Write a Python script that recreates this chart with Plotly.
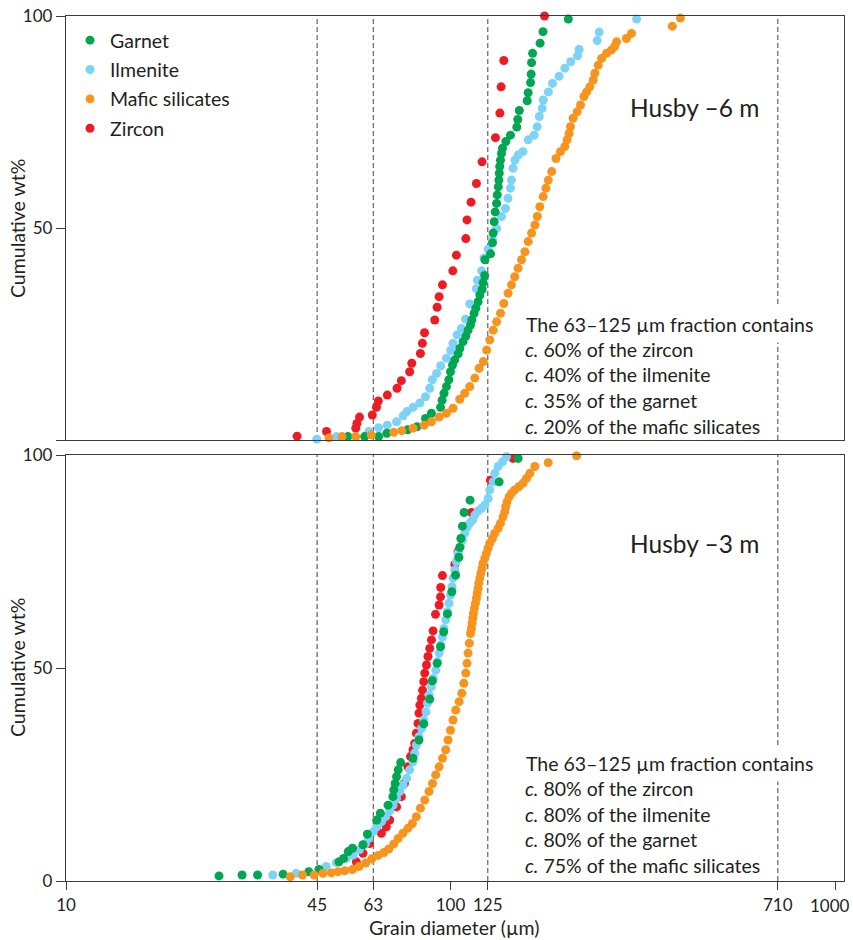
import plotly.graph_objects as go

# ---------------- data: grain diameter (µm) vs cumulative wt% ----------------
# Husby -6 m
TOP_GARNET_D = [54.1, 59.8, 65.0, 68.3, 77.3, 81.8, 86.1, 89.2, 94.2, 95.1, 96.2, 97.6, 99.0, 100.0,
                101.2, 102.6, 104.7, 105.7, 107.8, 109.6, 111.1, 112.7, 113.6, 115.2, 116.4, 118.0,
                119.2, 120.9, 121.6, 122.7, 122.9, 127.1, 128.6, 129.1, 129.9, 130.7, 131.8, 132.3,
                133.1, 133.6, 133.9, 134.3, 134.9, 135.7, 136.5, 139.3, 143.2, 148.7, 149.6, 151.0,
                158.3, 159.2, 161.5, 162.1, 162.5, 163.5, 171.0, 174.0, 202.5]
TOP_GARNET_CUM = [0.8, 0.8, 0.8, 1.6, 2.4, 3.1, 5.1, 6.3, 7.7, 9.4, 11.0, 12.6, 14.2, 16.1,
                  17.7, 18.9, 20.3, 21.6, 23.2, 24.5, 25.9, 27.1, 28.3, 29.9, 31.1, 32.6,
                  34.2, 35.5, 37.1, 38.8, 42.5, 43.9, 46.5, 48.8, 51.5, 53.8, 55.8, 57.8,
                  59.7, 61.3, 62.9, 64.5, 66.0, 67.6, 68.8, 70.4, 71.9, 73.8, 75.6, 77.7,
                  80.0, 81.9, 84.3, 86.3, 89.0, 91.2, 93.6, 96.3, 99.3]

TOP_ILMENITE_D = [44.9, 50.5, 61.3, 65.0, 68.5, 72.4, 75.3, 77.0, 79.9, 83.2, 86.1, 88.3, 89.7,
                  92.0, 94.3, 97.6, 100.1, 101.5, 104.0, 106.8, 109.4, 112.2, 116.8, 117.5, 120.5,
                  122.2, 125.3, 128.6, 131.8, 135.7, 139.0, 141.1, 143.2, 144.1, 145.4, 147.1,
                  149.9, 154.3, 159.2, 165.0, 168.1, 170.2, 173.2, 174.3, 179.7, 184.2, 191.6,
                  198.3, 205.5, 214.0, 216.0, 240.7, 243.6, 304.8]
TOP_ILMENITE_CUM = [0.2, 0.8, 2.0, 2.9, 3.5, 4.3, 5.7, 6.7, 7.7, 8.7, 10.2, 12.2, 14.2,
                    15.7, 17.5, 19.3, 21.1, 22.8, 24.8, 26.3, 28.5, 32.1, 35.7, 37.7, 39.9,
                    42.9, 45.0, 47.2, 49.9, 52.7, 54.6, 57.0, 59.4, 61.3, 64.1, 66.0,
                    67.2, 68.0, 70.8, 71.9, 73.9, 76.3, 78.2, 80.2, 82.1, 84.1, 85.8,
                    87.7, 89.2, 90.6, 92.1, 94.2, 96.2, 99.3]

TOP_MAFIC_D = [48.3, 52.2, 56.7, 62.2, 71.2, 74.7, 79.9, 85.4, 89.2, 93.4, 97.6, 101.5, 105.7,
               108.9, 112.2, 115.7, 118.7, 121.7, 124.2, 126.5, 129.1, 131.8, 134.9, 137.6,
               141.2, 144.1, 146.9, 149.9, 153.0, 156.1, 159.2, 162.5, 165.8, 168.2, 170.7,
               174.2, 177.1, 179.6, 183.3, 188.1, 193.2, 198.3, 201.0, 203.4, 205.1, 208.4,
               213.5, 217.8, 222.3, 226.0, 230.3, 235.0, 237.4, 242.2, 247.2, 254.6, 262.2,
               267.3, 270.3, 286.8, 295.6, 377.4, 396.3]
TOP_MAFIC_CUM = [0.5, 0.8, 0.8, 1.2, 1.8, 2.2, 2.8, 3.5, 4.3, 5.4, 6.3, 7.5, 9.6,
                 11.0, 12.6, 14.6, 16.9, 18.5, 21.2, 23.6, 25.9, 27.9, 29.9, 32.2,
                 34.6, 36.6, 38.5, 40.5, 42.5, 44.4, 46.8, 48.8, 50.7, 52.7, 55.0,
                 57.4, 59.4, 61.3, 63.3, 66.4, 68.0, 69.2, 70.8, 72.3, 73.9, 75.9,
                 77.4, 79.0, 81.0, 82.1, 83.3, 84.9, 86.5, 88.4, 90.0, 91.2, 92.0,
                 92.8, 93.9, 94.7, 95.9, 97.6, 99.5]

TOP_ZIRCON_D = [39.9, 47.6, 56.7, 57.1, 58.0, 62.6, 64.2, 64.9, 68.5, 72.6, 74.5, 78.3, 79.3,
                83.5, 84.5, 85.6, 91.0, 92.3, 93.4, 95.3, 101.4, 103.6, 109.6, 110.4, 113.1,
                116.8, 120.8, 130.9, 134.4, 135.4, 137.6, 175.6]
TOP_ZIRCON_CUM = [0.9, 2.0, 2.8, 3.9, 5.4, 5.9, 7.7, 9.2, 10.6, 12.2, 14.0, 16.1, 18.1,
                  20.4, 22.8, 25.3, 28.3, 31.3, 33.8, 36.6, 39.9, 43.6, 47.5, 51.9, 56.1,
                  60.5, 65.6, 71.3, 77.1, 83.3, 89.5, 100.0]

# Husby -3 m
BOT_GARNET_D = [25.0, 28.7, 31.5, 36.7, 42.8, 45.5, 51.3, 52.7, 54.2, 55.6, 59.2, 60.8, 64.3,
                65.7, 68.8, 70.8, 71.2, 71.8, 72.4, 73.1, 74.2, 79.9, 82.8, 85.2, 88.3, 89.7,
                92.3, 94.2, 96.0, 98.2, 100.8, 103.1, 105.1, 105.7, 106.4, 107.4, 108.5, 112.4,
                133.8, 149.9]
BOT_GARNET_CUM = [1.2, 1.4, 1.4, 1.6, 2.2, 2.7, 4.5, 5.3, 6.9, 7.7, 8.5, 11.0, 14.3,
                  15.9, 17.8, 19.8, 21.4, 22.9, 24.5, 26.1, 27.8, 28.8, 33.1, 36.9, 42.7, 47.0,
                  51.1, 55.0, 58.5, 62.7, 67.9, 71.8, 76.0, 78.3, 80.4, 83.3, 86.5, 89.4,
                  93.7, 99.2]

BOT_ILMENITE_D = [34.5, 39.7, 47.5, 50.5, 53.6, 55.8, 58.0, 60.1, 61.3, 63.0, 64.3, 66.1, 67.8,
                  69.5, 70.9, 72.4, 73.8, 75.3, 76.9, 78.3, 79.9, 80.7, 81.5, 82.8, 84.1, 85.2,
                  86.4, 87.1, 88.0, 89.2, 90.2, 91.6, 92.6, 93.4, 94.3, 95.3, 96.2, 97.2, 98.2,
                  99.1, 100.0, 100.9, 101.5, 102.6, 103.6, 104.6, 106.2, 107.4, 108.9, 110.5,
                  112.2, 114.0, 115.7, 118.0, 120.5, 122.9, 125.3, 126.5, 129.1, 130.3, 133.0,
                  136.5, 139.8]
BOT_ILMENITE_CUM = [1.4, 1.8, 3.4, 4.3, 5.3, 6.1, 7.4, 8.7, 10.0, 11.6, 12.7, 13.9, 15.1,
                    16.5, 17.8, 19.4, 21.0, 22.5, 24.1, 26.1, 28.0, 30.0, 31.9, 33.9, 35.8, 37.8,
                    39.7, 41.7, 43.7, 45.6, 47.6, 49.5, 51.5, 53.5, 55.4, 57.3, 59.3, 61.3, 63.2,
                    65.2, 67.1, 69.1, 71.1, 73.0, 75.0, 76.9, 78.5, 80.0, 81.6, 83.0,
                    84.0, 84.7, 85.9, 86.9, 87.5, 88.3, 89.8, 91.8, 93.7, 95.7, 97.3,
                    98.4, 99.6]

BOT_MAFIC_D = [38.3, 41.2, 44.2, 46.6, 49.0, 51.0, 53.1, 55.6, 57.8, 60.2, 62.4, 64.8, 67.1,
               69.1, 71.2, 73.1, 75.2, 77.5, 79.6, 81.5, 83.5, 85.7, 87.9, 89.8, 91.5, 93.4,
               95.3, 97.2, 98.5, 100.0, 101.5, 103.2, 105.3, 107.0, 108.3, 109.6, 110.4, 111.1,
               111.9, 112.7, 113.4, 113.8, 114.3, 114.7, 115.4, 116.1, 116.8, 117.3, 118.0,
               118.4, 119.2, 119.9, 120.8, 121.5, 122.8, 124.0, 125.2, 126.5, 128.6, 130.3,
               133.0, 134.9, 137.0, 138.4, 139.2, 140.3, 142.0, 144.1, 146.9, 150.8, 154.4,
               157.6, 160.8, 165.7, 179.5, 212.8]
BOT_MAFIC_CUM = [1.0, 1.4, 1.4, 1.8, 1.9, 2.2, 2.4, 2.7, 3.4, 4.2, 5.2, 6.0, 6.7,
                 7.5, 8.7, 10.0, 11.2, 12.4, 13.5, 15.1, 17.1, 19.0, 21.0, 22.9, 24.9, 26.8,
                 28.8, 30.8, 33.1, 35.4, 37.8, 40.1, 42.1, 44.1, 46.4, 48.8, 51.1, 53.5,
                 55.8, 58.1, 59.3, 60.5, 61.7, 62.8, 64.0, 65.2, 66.4, 67.5, 68.7,
                 69.9, 71.1, 72.2, 73.4, 74.6, 75.8, 76.9, 78.1, 79.3, 80.4, 81.6,
                 82.8, 84.0, 85.5, 86.7, 87.9, 89.0, 90.2, 91.0, 91.8, 92.6, 93.4,
                 94.5, 95.7, 97.3, 98.2, 99.8]

BOT_ZIRCON_D = [56.9, 59.2, 61.6, 66.1, 68.1, 69.5, 72.4, 74.5, 75.9, 77.5, 78.7, 79.9, 80.7,
                81.5, 82.3, 82.8, 83.2, 84.0, 84.6, 85.2, 85.7, 86.6, 87.4, 88.3, 89.2, 90.1,
                91.4, 93.4, 94.2, 94.3, 95.3, 102.6, 104.6, 110.2, 113.4, 127.0, 145.4]
BOT_ZIRCON_CUM = [4.5, 6.5, 8.8, 11.2, 12.7, 14.3, 17.4, 19.8, 22.9, 26.8, 29.2, 30.8, 32.3,
                  34.7, 37.0, 39.4, 41.3, 42.9, 44.8, 46.8, 48.8, 50.7, 52.7, 54.6, 56.6, 58.7,
                  62.6, 64.8, 66.7, 68.9, 71.7, 74.3, 77.3, 83.3, 86.5, 94.1, 99.2]

SIEVE_LINES = [45, 63, 125, 710]
X_TICKS = [10, 45, 63, 100, 125, 710, 1000]
Y_TICKS = [0, 50, 100]

PANEL_TITLES = ["Husby \u20136 m", "Husby \u20133 m"]
NOTE_HEAD = "The 63\u2013125 \u00b5m fraction contains"
NOTES_TOP = ["<i>c.</i> 60% of the zircon", "<i>c.</i> 40% of the ilmenite",
             "<i>c.</i> 35% of the garnet", "<i>c.</i> 20% of the mafic silicates"]
NOTES_BOT = ["<i>c.</i> 80% of the zircon", "<i>c.</i> 80% of the ilmenite",
             "<i>c.</i> 80% of the garnet", "<i>c.</i> 75% of the mafic silicates"]

# ---------------- styling ----------------
FONT = "Lato"
INK = "#231f20"
AXIS = "#3b3b3b"
COLORS = {"Garnet": "#00a651", "Ilmenite": "#7dd3f7",
          "Mafic silicates": "#f7941d", "Zircon": "#ed1c24"}
# drawing order (first = bottom) and legend order
DRAW_ORDER = ["Zircon", "Ilmenite", "Garnet", "Mafic silicates"]
RANK = {"Garnet": 1, "Ilmenite": 2, "Mafic silicates": 3, "Zircon": 4}
TEXT_SIZE = 19.5
TICK_SIZE = 17

W, H = 853, 940
ML, MR, MT, MB = 66, 9, 16, 59
PH = H - MT - MB
TOP_DOMAIN = [(H - MB - 440) / PH, 1.0]
BOT_DOMAIN = [0.0, (H - MB - 455) / PH]

series_top = {"Garnet": (TOP_GARNET_D, TOP_GARNET_CUM),
              "Ilmenite": (TOP_ILMENITE_D, TOP_ILMENITE_CUM),
              "Mafic silicates": (TOP_MAFIC_D, TOP_MAFIC_CUM),
              "Zircon": (TOP_ZIRCON_D, TOP_ZIRCON_CUM)}
series_bot = {"Garnet": (BOT_GARNET_D, BOT_GARNET_CUM),
              "Ilmenite": (BOT_ILMENITE_D, BOT_ILMENITE_CUM),
              "Mafic silicates": (BOT_MAFIC_D, BOT_MAFIC_CUM),
              "Zircon": (BOT_ZIRCON_D, BOT_ZIRCON_CUM)}

fig = go.Figure()

for name in DRAW_ORDER:
    d, cum = series_top[name]
    fig.add_trace(go.Scatter(
        x=d, y=cum, mode="markers", name=name, xaxis="x2", yaxis="y2",
        marker=dict(size=9, color=COLORS[name], line=dict(width=0)),
        legendgroup=name, legendrank=RANK[name],
        cliponaxis=False, showlegend=True))

for name in DRAW_ORDER:
    d, cum = series_bot[name]
    fig.add_trace(go.Scatter(
        x=d, y=cum, mode="markers", name=name, xaxis="x", yaxis="y",
        marker=dict(size=9, color=COLORS[name], line=dict(width=0)),
        legendgroup=name, legendrank=RANK[name],
        cliponaxis=False, showlegend=False))

# sieve boundaries as dashed verticals in both panels
shapes = []
for xr, yr in (("x", "y domain"), ("x2", "y2 domain")):
    for v in SIEVE_LINES:
        shapes.append(dict(type="line", xref=xr, yref=yr, x0=v, x1=v, y0=0, y1=1,
                           layer="below", line=dict(color="#6d6e71", width=1.3, dash="5px,3px")))


def ypaper(py):
    return (H - MB - py) / PH


def xpaper(px):
    return (px - ML) / (W - ML - MR)


annotations = []
# panel labels
for title, py in zip(PANEL_TITLES, (108, 543)):
    annotations.append(dict(text=title, xref="paper", yref="paper", x=xpaper(694), y=ypaper(py),
                            xanchor="center", yanchor="middle", showarrow=False,
                            font=dict(family=FONT, size=24.5, color=INK)))

# note blocks
for notes, base in ((NOTES_TOP, 324), (NOTES_BOT, 763)):
    annotations.append(dict(text=NOTE_HEAD, xref="paper", yref="paper", x=xpaper(525) - 0.008,
                            y=ypaper(base), xanchor="left", yanchor="middle", showarrow=False,
                            bgcolor="white", borderpad=6,
                            font=dict(family=FONT, size=TEXT_SIZE, color=INK)))
    for i, line in enumerate(notes):
        annotations.append(dict(text=line, xref="paper", yref="paper", x=xpaper(523),
                                y=ypaper(base + 25.5 * (i + 1)), xanchor="left", yanchor="middle",
                                showarrow=False, font=dict(family=FONT, size=TEXT_SIZE, color=INK)))

# axis titles
for py in (229, 668):
    annotations.append(dict(text="Cumulative wt%", xref="paper", yref="paper", x=xpaper(17),
                            y=ypaper(py), xanchor="center", yanchor="middle", textangle=-90,
                            showarrow=False, font=dict(family=FONT, size=TEXT_SIZE, color=INK)))
annotations.append(dict(text="Grain diameter (\u00b5m)", xref="paper", yref="paper",
                        x=xpaper(454), y=ypaper(928), xanchor="center", yanchor="middle",
                        showarrow=False, font=dict(family=FONT, size=TEXT_SIZE, color=INK)))

# the last tick label sits against the right page edge, so it is right-aligned there
x_ticktext = [str(v) for v in X_TICKS[:-1]] + [""]
annotations.append(dict(text=str(X_TICKS[-1]), xref="paper", yref="y", x=xpaper(W - 1), y=0,
                        xanchor="right", yanchor="top", yshift=-12, showarrow=False,
                        font=dict(family=FONT, size=TICK_SIZE, color=INK)))

xcommon = dict(type="log", range=[1, 3.0234], showgrid=False, zeroline=False, automargin=False,
               showline=True, linecolor=AXIS, linewidth=1.3, mirror=True)
ycommon = dict(range=[0, 100], showgrid=False, zeroline=False, showline=True, automargin=False,
               linecolor=AXIS, linewidth=1.3, mirror=True, ticks="outside", ticklen=9,
               tickwidth=1.3, tickcolor=AXIS, tickvals=Y_TICKS,
               tickfont=dict(family=FONT, size=TICK_SIZE, color=INK))

fig.update_layout(
    width=W, height=H,
    margin=dict(l=ML, r=MR, t=MT, b=MB, autoexpand=False),
    paper_bgcolor="white", plot_bgcolor="white",
    font=dict(family=FONT, color=INK),
    xaxis=dict(**xcommon, anchor="y", ticks="outside", ticklen=8, tickwidth=1.3,
               tickcolor=AXIS, tickvals=X_TICKS, ticktext=x_ticktext,
               tickfont=dict(family=FONT, size=TICK_SIZE, color=INK)),
    xaxis2=dict(**xcommon, anchor="y2", matches="x", showticklabels=False, ticks=""),
    yaxis=dict(**ycommon, domain=BOT_DOMAIN, anchor="x",
               ticktext=[str(v) for v in Y_TICKS]),
    yaxis2=dict(**ycommon, domain=TOP_DOMAIN, anchor="x2",
                ticktext=["", "50", "100"]),
    legend=dict(x=xpaper(70), y=ypaper(21), xanchor="left", yanchor="top",
                bgcolor="rgba(0,0,0,0)", borderwidth=0, itemwidth=30,
                traceorder="grouped", tracegroupgap=1,
                font=dict(family=FONT, size=TEXT_SIZE, color=INK)),
    shapes=shapes, annotations=annotations,
)

fig.write_html("out.html")
